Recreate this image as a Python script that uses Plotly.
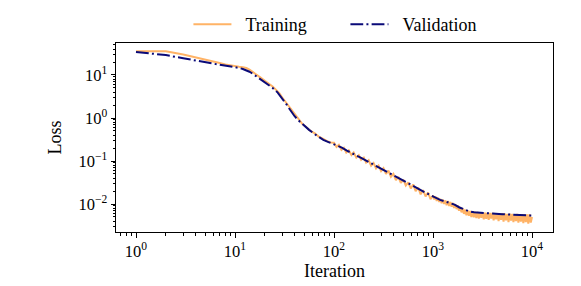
import plotly.graph_objects as go

# ---- data ----
train_x = [1, 2, 3, 4, 5, 6, 7, 8, 9, 10, 11, 12, 13, 14, 15, 16, 18, 20, 22, 24,
           26, 28, 30, 33, 36, 40, 44, 48, 53, 58, 64, 70, 77, 85, 93,
           100, 106, 112, 119, 126, 133, 141, 150, 158, 168, 178, 188, 200, 211, 224,
           237, 251, 266, 282, 299, 316, 335, 355, 376, 398, 422, 447, 473, 501, 531,
           562, 596, 631, 668, 708, 750, 794, 841, 891, 944,
           1000, 1029, 1059, 1090, 1122, 1155, 1189, 1223, 1259, 1296, 1334, 1372,
           1413, 1454, 1496, 1540, 1585, 1631, 1679, 1728, 1778, 1830, 1884, 1939,
           1995, 2054, 2113, 2175, 2239, 2304, 2371, 2441, 2512, 2585, 2661, 2738,
           2818, 2901, 2985, 3073, 3162, 3255, 3350, 3447, 3548, 3652, 3758, 3868,
           3981, 4097, 4217, 4340, 4467, 4597, 4732, 4870, 5012, 5158, 5309, 5464,
           5623, 5788, 5957, 6131, 6310, 6494, 6683, 6879, 7079, 7286, 7499, 7718,
           7943, 8175, 8414, 8660, 8913, 9173, 9441, 9716, 10000]
train_y = [35.5, 35.5, 30.0, 26.0, 22.5, 20.5, 19.0, 17.6, 16.6, 16.0, 15.5, 15.2, 14.5,
           13.3, 12.0, 10.5, 8.8, 7.3, 6.3, 5.4, 4.5, 3.8, 3.0, 2.25, 1.7, 1.18, 0.9,
           0.72, 0.6, 0.5, 0.44, 0.37, 0.33, 0.29, 0.27,
           0.265, 0.212, 0.238, 0.182, 0.203, 0.157, 0.177, 0.138, 0.157, 0.120, 0.137,
           0.106, 0.120, 0.092, 0.104, 0.078, 0.090, 0.067, 0.078, 0.058, 0.068, 0.050,
           0.060, 0.043, 0.050, 0.036, 0.043, 0.031, 0.037, 0.027, 0.032, 0.023, 0.0285,
           0.020, 0.0242, 0.0168, 0.0210, 0.0150, 0.0185, 0.0130,
           0.0158, 0.0128, 0.0149, 0.0118, 0.0140, 0.0112, 0.0131, 0.0104, 0.0126,
           0.0100, 0.0121, 0.0094, 0.0117, 0.0090, 0.0112, 0.0086, 0.0106, 0.0081,
           0.0099, 0.0076, 0.0093, 0.0070, 0.0085, 0.0064, 0.0079, 0.0059, 0.0074,
           0.0055, 0.0071, 0.0053, 0.0069, 0.0050, 0.0067, 0.0049, 0.0066, 0.0047,
           0.0065, 0.0046, 0.0064, 0.0048, 0.0064, 0.0044, 0.0063, 0.0045, 0.0063,
           0.0043, 0.0062, 0.0046, 0.0062, 0.0042, 0.0061, 0.0044, 0.0061, 0.0040,
           0.0060, 0.0043, 0.0061, 0.0039, 0.0060, 0.0042, 0.0059, 0.0038, 0.0060,
           0.0041, 0.0059, 0.0038, 0.0058, 0.0040, 0.0059, 0.0037, 0.0058, 0.0039,
           0.0058, 0.0036, 0.0058, 0.0038, 0.0057, 0.0035, 0.0058, 0.0037, 0.0050]

val_x = [1, 1.5, 2, 3, 4, 5, 6, 7, 8, 9, 10, 11, 12, 13, 14, 15, 16, 17, 18, 20, 22,
         24, 27, 30, 33, 36, 40, 45, 50, 56, 63, 70, 78, 88,
         100, 110, 120, 135, 150, 170, 190, 215, 240, 270, 300, 340, 380, 430, 480,
         540, 600, 680, 760, 850, 950, 1060, 1180, 1320, 1480, 1650, 1850, 2050, 2300,
         2600, 3000, 3500, 4000, 5000, 6000, 7000, 8000, 9000, 10000]
val_y = [34.3, 31.5, 29.0, 24.5, 21.5, 19.7, 18.4, 17.4, 16.7, 16.1, 15.4, 14.6, 13.8,
         12.9, 11.9, 10.8, 9.7, 8.9, 8.1, 6.8, 5.8, 5.0, 3.9, 2.9, 2.1, 1.55, 1.1, 0.83,
         0.66, 0.53, 0.43, 0.37, 0.31, 0.275,
         0.245, 0.225, 0.205, 0.175, 0.152, 0.132, 0.117, 0.100, 0.087, 0.075, 0.066,
         0.057, 0.049, 0.042, 0.036, 0.031, 0.0275, 0.0235, 0.0205, 0.0181, 0.0160,
         0.0141, 0.0125, 0.0115, 0.0107, 0.0097, 0.0083, 0.0074, 0.0068, 0.0064,
         0.0062, 0.0061, 0.0060, 0.0058, 0.0057, 0.0056, 0.0055, 0.0055, 0.0054]

x_tick_vals = [1, 10, 100, 1000, 10000]
x_tick_text = ["10<sup>0</sup>", "10<sup>1</sup>", "10<sup>2</sup>", "10<sup>3</sup>", "10<sup>4</sup>"]
y_tick_vals = [0.01, 0.1, 1, 10]
y_tick_text = ["10<sup>−2</sup>", "10<sup>−1</sup>", "10<sup>0</sup>", "10<sup>1</sup>"]

x_minor = [m * 10.0 ** e for e in range(-1, 5) for m in range(2, 10)]
y_minor = [m * 10.0 ** e for e in range(-3, 2) for m in range(2, 10)]

FONT = "Liberation Serif, Times New Roman, serif"
X_RANGE = [-0.202, 4.212]
Y_RANGE = [-2.651, 1.744]
NB = "\u00a0\u00a0"

fig = go.Figure()
fig.add_trace(go.Scatter(x=train_x, y=train_y, mode="lines", name=NB + "Training",
                         line=dict(color="#ffb366", width=2)))
fig.add_trace(go.Scatter(x=val_x, y=val_y, mode="lines", name=NB + "Validation",
                         line=dict(color="#0a0a78", width=2,
                                   dash="12.8px,3.2px,2px,3.2px")))
# invisible trace carrying the minor-tick axes
fig.add_trace(go.Scatter(x=[None], y=[None], xaxis="x2", yaxis="y2", mode="lines",
                         showlegend=False, hoverinfo="skip"))

axis_common = dict(
    showgrid=False, zeroline=False, showline=True, linecolor="black", linewidth=1,
    mirror=True, ticks="outside", ticklen=4.5, tickwidth=1, tickcolor="black",
    tickfont=dict(family=FONT, size=16.5, color="black"),
)
minor_common = dict(
    type="log", showgrid=False, zeroline=False, showline=False, ticks="outside",
    ticklen=2.5, tickwidth=0.8, tickcolor="black", showticklabels=False,
    tickmode="array",
)

fig.update_layout(
    xaxis=dict(type="log", range=X_RANGE, tickmode="array",
               tickvals=x_tick_vals, ticktext=x_tick_text,
               title=dict(text="Iteration", font=dict(family=FONT, size=18, color="black"),
                          standoff=3),
               **axis_common),
    yaxis=dict(type="log", range=Y_RANGE, tickmode="array",
               tickvals=y_tick_vals, ticktext=y_tick_text,
               title=dict(text="Loss", font=dict(family=FONT, size=18, color="black"),
                          standoff=12),
               **axis_common),
    xaxis2=dict(range=X_RANGE, overlaying="x", side="bottom", anchor="y",
                tickvals=x_minor, **minor_common),
    yaxis2=dict(range=Y_RANGE, overlaying="y", side="left", anchor="x",
                tickvals=y_minor, **minor_common),
    width=581, height=286,
    margin=dict(l=116, r=28, t=43, b=54, autoexpand=False),
    paper_bgcolor="white", plot_bgcolor="white",
    font=dict(family=FONT, size=18, color="black"),
    showlegend=True,
    legend=dict(orientation="h", x=0.525, xanchor="center", y=1.0, yanchor="bottom",
                font=dict(family=FONT, size=18, color="black"),
                itemwidth=38, entrywidth=104, entrywidthmode="pixels",
                bgcolor="rgba(0,0,0,0)"),
)

fig.write_html("out.html", post_script="document.body.style.margin='0';",
               config={"displayModeBar": False})
